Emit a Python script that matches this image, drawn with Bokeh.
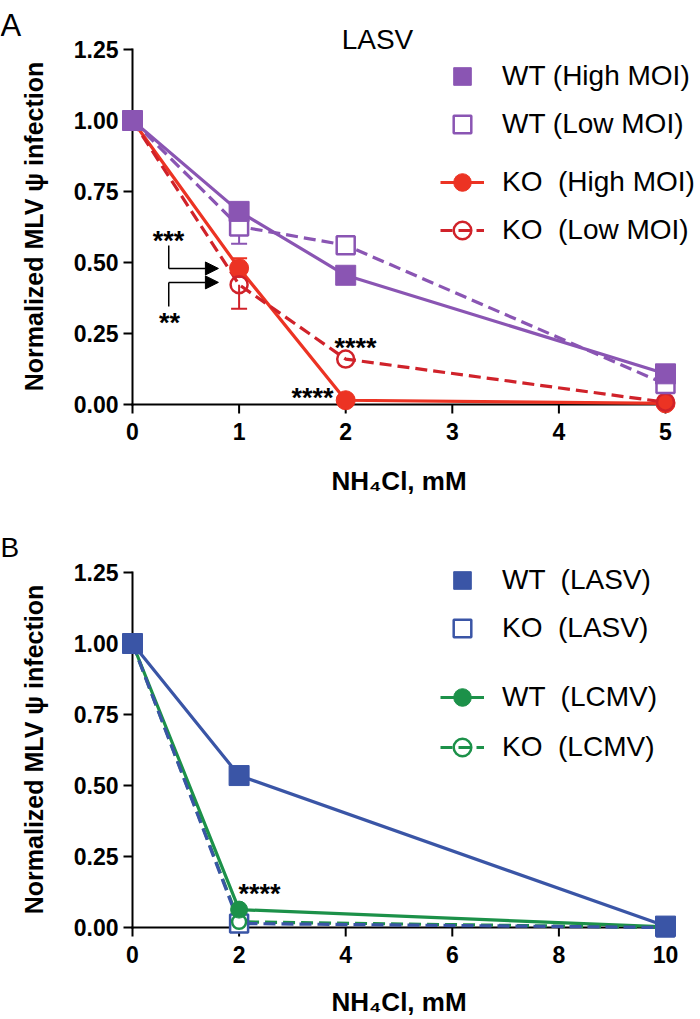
import math
from bokeh.plotting import figure
from bokeh.models import (Range1d, Legend, LegendItem, Label, Whisker, TeeHead, Arrow,
                          NormalHead, ColumnDataSource)
from bokeh.layouts import column
from bokeh.embed import file_html
from bokeh.resources import INLINE
from bokeh.core.properties import value

# ---------------- data ----------------
# Panel A (LASV)
conc_a = [0, 1, 2, 5]
wt_high = [1.00, 0.680, 0.455, 0.108]
wt_low = [1.00, 0.627, 0.561, 0.072]
ko_high = [1.00, 0.480, 0.015, 0.004]
ko_low = [1.00, 0.422, 0.160, 0.008]
# one-sided error bars at 1 mM
err_wt_high = dict(x=[1], base=[0.680], top=[0.710])
err_ko_high = dict(x=[1], base=[0.480], top=[0.515])
err_wt_low = dict(x=[1], base=[0.627], bottom=[0.566])
err_ko_low = dict(x=[1], base=[0.422], bottom=[0.337])

# Panel B (LASV vs LCMV)
conc_b = [0, 2, 10]
wt_lasv = [1.00, 0.535, 0.005]
ko_lasv = [1.00, 0.014, 0.000]
wt_lcmv = [1.00, 0.063, 0.002]
ko_lcmv = [1.00, 0.020, 0.000]

y_ticks = [0, 0.25, 0.5, 0.75, 1.0, 1.25]
x_ticks_a = [0, 1, 2, 3, 4, 5]
x_ticks_b = [0, 2, 4, 6, 8, 10]

# significance annotations (data coords)
stars_a_x = [0.338, 0.347, 2.092]
stars_a_y = [0.588, 0.299, 0.211]
stars_a_t = ["***", "**", "****"]
stars_a_right_x = [1.886]
stars_a_right_y = [0.032]
stars_a_right_t = ["****"]
arrow_stem_x = [0.34, 0.34]
arrow_stem_y0 = [0.560, 0.345]
arrow_y = [0.479, 0.430]
arrow_tip_x = [0.806, 0.806]
stars_b_x = [1.99]
stars_b_y = [0.128]
stars_b_t = ["****"]

PURPLE = "#8A55B3"
RED = "#EC3323"
DARKRED = "#D0222A"
BLUE = "#3A55A6"
GREEN = "#1C9149"

FONT = "Liberation Sans"
W, HA, HB = 700, 523, 496
OX, OY = 132, 404          # pixel of the data origin inside each figure
KY = 284.0                 # pixels per y unit
STAR_OFF = 3


def make_fig(height, kx):
    p = figure(width=W, height=height, title=None, output_backend="svg", toolbar_location=None,
               x_axis_location=None, y_axis_location=None,
               x_range=Range1d(-OX / kx, (W - OX) / kx),
               y_range=Range1d(-(height - OY) / KY, OY / KY),
               min_border=0)
    p.xgrid.visible = False
    p.ygrid.visible = False
    p.outline_line_color = None
    p.background_fill_color = "white"
    p.border_fill_color = "white"
    return p


def draw_axes(p, xticks):
    x0 = xticks[0]
    # axis lines
    p.segment(x0=[x0, x0], y0=[y_ticks[0], y_ticks[0]], x1=[x0, xticks[-1]],
              y1=[y_ticks[-1], y_ticks[0]], line_color="black", line_width=2, line_cap="square")
    # ticks
    p.ray(x=[x0] * len(y_ticks), y=y_ticks, length=9, length_units="screen", angle=math.pi,
          line_color="black", line_width=2)
    p.ray(x=xticks, y=[y_ticks[0]] * len(xticks), length=9, length_units="screen",
          angle=-math.pi / 2, line_color="black", line_width=2)
    # tick labels
    p.text(x=[x0] * len(y_ticks), y=y_ticks, text=[f"{t:.2f}" for t in y_ticks],
           text_align="right", text_baseline="middle", x_offset=-14,
           text_font=value(FONT), text_font_style="bold", text_font_size=value("23px"),
           text_color="black")
    p.text(x=xticks, y=[y_ticks[0]] * len(xticks), text=[str(t) for t in xticks],
           text_align="center", text_baseline="middle", y_offset=27,
           text_font=value(FONT), text_font_style="bold", text_font_size=value("23px"),
           text_color="black")


def add_titles(p, kx, xmid, letter, letter_size, x_title_px, letter_base_px):
    p.add_layout(Label(x=(33 - OX) / kx, y=(OY - 226) / KY, angle=math.pi / 2,
                       text="Normalized MLV \u03c8 infection", text_font=FONT,
                       text_font_style="bold", text_font_size="25px", text_align="center",
                       text_baseline="alphabetic", text_color="black"))
    p.add_layout(Label(x=xmid, y=(OY - x_title_px) / KY, text="NH\u2084Cl, mM", text_font=FONT,
                       text_font_style="bold", text_font_size="26px", text_align="center",
                       text_baseline="alphabetic", text_color="black"))
    p.add_layout(Label(x=-OX / kx, y=(OY - letter_base_px) / KY, text=letter, text_font=FONT,
                       text_font_size=letter_size, text_align="left",
                       text_baseline="alphabetic", text_color="black"))


def legend(p, items, vy, spacing):
    lg = Legend(items=items, location=(440, vy), orientation="vertical",
                glyph_width=44, glyph_height=44, label_height=44, spacing=spacing,
                padding=0, margin=0, label_standoff=18,
                label_text_font=FONT, label_text_font_size="28px", label_text_color="black",
                border_line_color=None, background_fill_alpha=0)
    p.add_layout(lg)


def whisker(p, src, color, up):
    s = ColumnDataSource(src)
    if up:
        w = Whisker(source=s, base="x", upper="top", lower="base", dimension="height",
                    line_color=color, line_width=2,
                    upper_head=TeeHead(size=16, line_color=color, line_width=2), lower_head=None)
    else:
        w = Whisker(source=s, base="x", upper="base", lower="bottom", dimension="height",
                    line_color=color, line_width=2,
                    lower_head=TeeHead(size=16, line_color=color, line_width=2), upper_head=None)
    p.add_layout(w)


def stars(p, xs, ys, ts, align):
    p.text(x=xs, y=ys, text=ts, text_font=value(FONT), text_font_style="bold",
           text_font_size=value("27px"), text_align=align, text_baseline="alphabetic",
           y_offset=STAR_OFF, text_color="black")


# ---------------- Panel A ----------------
KXA = 106.6
pa = make_fig(HA, KXA)
draw_axes(pa, x_ticks_a)

la_wh = pa.line(conc_a, wt_high, line_color=PURPLE, line_width=3.2)
la_wl = pa.line(conc_a, wt_low, line_color=PURPLE, line_width=3.2, line_dash="12 6")
la_kh = pa.line(conc_a, ko_high, line_color=RED, line_width=3.2)
la_kl = pa.line(conc_a, ko_low, line_color=DARKRED, line_width=3.2, line_dash="12 6")

whisker(pa, err_wt_high, PURPLE, True)
whisker(pa, err_ko_high, RED, True)
whisker(pa, err_wt_low, PURPLE, False)
whisker(pa, err_ko_low, DARKRED, False)

sa_kh = pa.scatter(conc_a, ko_high, marker="circle", size=19, fill_color=RED, line_color=RED)
sa_kl = pa.scatter(conc_a, ko_low, marker="circle", size=17, fill_color=None,
                   line_color=DARKRED, line_width=2.5)
sa_wl = pa.scatter(conc_a, wt_low, marker="square", size=18, fill_color="white",
                   line_color=PURPLE, line_width=2.5)
sa_wh = pa.scatter(conc_a, wt_high, marker="square", size=20, fill_color=PURPLE, line_color=PURPLE)

pa.segment(x0=arrow_stem_x, y0=arrow_stem_y0, x1=arrow_stem_x, y1=arrow_y,
           line_color="black", line_width=1.5)
for x0, y0, x1 in zip(arrow_stem_x, arrow_y, arrow_tip_x):
    pa.add_layout(Arrow(x_start=x0, y_start=y0, x_end=x1, y_end=y0, line_color="black",
                        line_width=1.5,
                        end=NormalHead(size=13, fill_color="black", line_color="black")))

stars(pa, stars_a_x, stars_a_y, stars_a_t, "center")
stars(pa, stars_a_right_x, stars_a_right_y, stars_a_right_t, "right")

add_titles(pa, KXA, 2.5, "A", "31px", 480, 25)
pa.add_layout(Label(x=(377 - OX) / KXA, y=(OY - 39) / KY, text="LASV", text_font=FONT,
                    text_font_size="28px", text_align="center", text_baseline="alphabetic",
                    text_color="black"))

legend(pa, [LegendItem(label="WT (High MOI)", renderers=[sa_wh]),
            LegendItem(label="WT (Low MOI)", renderers=[sa_wl])], HA - 146, 4)
legend(pa, [LegendItem(label="KO  (High MOI)", renderers=[la_kh, sa_kh]),
            LegendItem(label="KO  (Low MOI)", renderers=[la_kl, sa_kl])], HA - 252, 4)

# ---------------- Panel B ----------------
KXB = 53.3
pb = make_fig(HB, KXB)
draw_axes(pb, x_ticks_b)

lb_wl = pb.line(conc_b, wt_lasv, line_color=BLUE, line_width=3.2)
lb_gc = pb.line(conc_b, wt_lcmv, line_color=GREEN, line_width=3.2)
lb_gk = pb.line(conc_b, ko_lcmv, line_color=GREEN, line_width=3.2, line_dash="12 6")
lb_kl = pb.line(conc_b, ko_lasv, line_color=BLUE, line_width=3.2, line_dash="12 6")

sb_kl = pb.scatter(conc_b, ko_lasv, marker="square", size=18, fill_color="white",
                   line_color=BLUE, line_width=2.5)
sb_gc = pb.scatter(conc_b, wt_lcmv, marker="circle", size=17, fill_color=GREEN, line_color=GREEN)
sb_gk = pb.scatter(conc_b, ko_lcmv, marker="circle", size=14, fill_color=None,
                   line_color=GREEN, line_width=2.5)
sb_wl = pb.scatter(conc_b, wt_lasv, marker="square", size=20, fill_color=BLUE, line_color=BLUE)

stars(pb, stars_b_x, stars_b_y, stars_b_t, "left")

add_titles(pb, KXB, 5.0, "B", "28px", 478, 24)

legend(pb, [LegendItem(label="WT  (LASV)", renderers=[sb_wl]),
            LegendItem(label="KO  (LASV)", renderers=[sb_kl])], HB - 127, 4)
legend(pb, [LegendItem(label="WT  (LCMV)", renderers=[lb_gc, sb_gc]),
            LegendItem(label="KO  (LCMV)", renderers=[lb_gk, sb_gk])], HB - 246, 6)

layout = column(pa, pb, spacing=0)
open("out.html", "w").write(file_html(layout, INLINE))
